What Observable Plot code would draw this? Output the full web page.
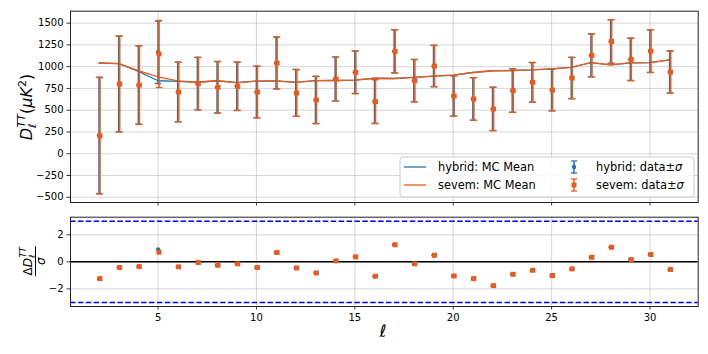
<!DOCTYPE html>
<html><head><meta charset="utf-8">
<script src="https://cdn.jsdelivr.net/npm/d3@7"></script>
<script src="https://cdn.jsdelivr.net/npm/@observablehq/plot@0.6"></script>
<style>
body{margin:0;background:#fff}
#fig{position:relative;width:708px;height:354px;overflow:hidden}
#fig svg{position:absolute;left:0}
</style>
</head><body><div id="fig"></div>
<script>
// multipoles
const ell = [2,3,4,5,6,7,8,9,10,11,12,13,14,15,16,17,18,19,20,21,22,23,24,25,26,27,28,29,30,31];
// hybrid: data and sigma
const hybridData  = [211,802,790,1165,710,806,764,775,710,1042,699,618,859,935,600,1176,840,1008,664,630,515,726,821,733,870,1130,1290,1084,1179,939];
const hybridSigma = [668,550,449,358,343,301,296,277,296,298,270,271,252,244,252,248,243,237,231,244,249,250,227,240,237,246,250,243,245,242];
// sevem: data and sigma
const sevemData   = [206,800,788,1146,708,805,763,774,708,1041,697,617,858,934,599,1175,839,1007,663,629,514,725,820,732,869,1129,1289,1083,1178,938];
const sevemSigma  = [668,550,452,385,341,301,296,277,296,298,267,271,252,244,252,248,243,237,231,244,249,250,227,240,237,246,250,243,245,242];
// MC means
const hybridMC = [1042,1035,945,838,832,821,838,817,834,836,819,840,841,845,867,864,877,892,904,933,953,956,962,975,993,1046,1020,1043,1047,1077];
const sevemMC  = [1042,1035,955,882,836,821,838,817,834,836,819,840,841,845,867,864,877,892,904,933,953,956,962,975,993,1046,1020,1043,1047,1077];
// normalised residuals
const hybridResid = [-1.24,-0.42,-0.35,0.91,-0.37,-0.05,-0.25,-0.15,-0.42,0.69,-0.45,-0.82,0.07,0.37,-1.06,1.26,-0.15,0.49,-1.04,-1.24,-1.76,-0.92,-0.62,-1.01,-0.52,0.34,1.08,0.17,0.55,-0.57];
const sevemResid  = [-1.24,-0.42,-0.35,0.71,-0.37,-0.05,-0.25,-0.15,-0.42,0.69,-0.45,-0.82,0.07,0.37,-1.06,1.26,-0.15,0.49,-1.04,-1.24,-1.76,-0.92,-0.62,-1.01,-0.52,0.34,1.08,0.17,0.54,-0.57];
// ticks
const xTicks = [5,10,15,20,25,30];
const yTicksTop = [-500,-250,0,250,500,750,1000,1250,1500];
const yTicksBot = [-2,0,2];
const sigmaLines = [3,-3];

const C_H = "#1f77b4", C_S = "#f05a16";
const minus = d => d < 0 ? "\u2212" + Math.abs(d) : String(d);
const H = ell.map((l,i)=>({l, v:hybridData[i], s:hybridSigma[i], mc:hybridMC[i], r:hybridResid[i]}));
const S = ell.map((l,i)=>({l, v:sevemData[i], s:sevemSigma[i], mc:sevemMC[i], r:sevemResid[i]}));
const cap = {draw(ctx){ctx.moveTo(-3.2,0);ctx.lineTo(3.2,0);}};
const font = {fontFamily:"DejaVu Sans", fontSize:"10px", color:"black", background:"white"};
const grid = {stroke:"#b0b0b0", strokeOpacity:0.65, strokeWidth:0.8};

function errMarks(D, col, dx){
  return [
    Plot.ruleX(D, {x:"l", y1:d=>d.v-d.s, y2:d=>d.v+d.s, stroke:col, strokeWidth:1.6, dx}),
    Plot.dot(D, {x:"l", y:d=>d.v-d.s, symbol:cap, r:3, stroke:col, fill:"none", strokeWidth:1.4, dx}),
    Plot.dot(D, {x:"l", y:d=>d.v+d.s, symbol:cap, r:3, stroke:col, fill:"none", strokeWidth:1.4, dx})
  ];
}

const topPlot = Plot.plot({
  width:708, height:208,
  marginLeft:70, marginRight:10.3, marginTop:10.7, marginBottom:6,
  style:font,
  x:{domain:[0.55,32.45]},
  y:{domain:[-560,1637]},
  marks:[
    Plot.gridY(yTicksTop, grid),
    Plot.gridX(xTicks, grid),
    Plot.line(H, {x:"l", y:"mc", stroke:C_H, strokeWidth:1.3}),
    Plot.line(S, {x:"l", y:"mc", stroke:C_S, strokeWidth:1.3}),
    ...errMarks(H, C_H, 0),
    Plot.dot(H, {x:"l", y:"v", r:2.2, fill:C_H, stroke:null}),
    ...errMarks(S, C_S, 1),
    Plot.dot(S, {x:"l", y:"v", symbol:"square", r:2.8, fill:C_S, stroke:null, dx:1}),
    Plot.axisY(yTicksTop, {tickSize:3.5, tickPadding:3.5, tickFormat:minus, label:null, strokeWidth:0.8}),
    Plot.axisX(xTicks, {tickSize:3.5, tickFormat:()=>"", label:null, strokeWidth:0.8}),
    Plot.frame({stroke:"#222", strokeWidth:1})
  ]
});

const botPlot = Plot.plot({
  width:708, height:146,
  marginLeft:70, marginRight:10.3, marginTop:8.7, marginBottom:48,
  style:font,
  x:{domain:[0.55,32.45]},
  y:{domain:[-3.3,3.3]},
  marks:[
    Plot.gridY(yTicksBot, grid),
    Plot.gridX(xTicks, grid),
    Plot.ruleY([0], {stroke:"black", strokeWidth:1.5}),
    Plot.ruleY(sigmaLines, {stroke:"#0000ff", strokeWidth:1.6, strokeDasharray:"5.5,2.4"}),
    Plot.dot(H, {x:"l", y:"r", r:2.2, fill:C_H, stroke:null}),
    Plot.dot(S, {x:"l", y:"r", symbol:"square", r:2.8, fill:C_S, stroke:null, dx:1}),
    Plot.axisY(yTicksBot, {tickSize:3.5, tickPadding:3.5, tickFormat:minus, label:null, strokeWidth:0.8}),
    Plot.axisX(xTicks, {tickSize:3.5, tickPadding:3.5, tickFormat:d=>String(d), label:null, strokeWidth:0.8}),
    Plot.frame({stroke:"#222", strokeWidth:1})
  ]
});

const fig = document.getElementById("fig");
topPlot.style.top = "0px"; botPlot.style.top = "208px";
fig.appendChild(topPlot); fig.appendChild(botPlot);

// top y label
const st = d3.select(topPlot);
const yl = st.append("text").attr("transform","translate(32,107) rotate(-90)")
  .attr("text-anchor","middle").attr("font-family","DejaVu Sans").attr("font-size",16).attr("fill","black");
yl.append("tspan").attr("font-style","italic").text("D");
yl.append("tspan").attr("font-style","italic").attr("font-size",11).attr("dy",4).text("ℓ");
yl.append("tspan").attr("font-style","italic").attr("font-size",11).attr("dx",-4).attr("dy",-11).text("TT");
yl.append("tspan").attr("dy",7).text("(");
yl.append("tspan").attr("font-style","italic").text("μK");
yl.append("tspan").attr("font-size",11).attr("dy",-6).text("2");
yl.append("tspan").attr("dy",6).text(")");

// legend
const lg = st.append("g").attr("font-family","DejaVu Sans").attr("font-size",11.4).attr("fill","black").attr("text-anchor","start");
lg.append("rect").attr("x",400).attr("y",157).attr("width",294).attr("height",40).attr("rx",3)
  .attr("fill","white").attr("fill-opacity",0.85).attr("stroke","#cccccc");
const legLines = [{t:"hybrid: MC Mean", c:C_H, y:167}, {t:"sevem: MC Mean", c:C_S, y:185}];
legLines.forEach(e=>{
  lg.append("line").attr("x1",404).attr("x2",426).attr("y1",e.y).attr("y2",e.y).attr("stroke",e.c).attr("stroke-width",1.3);
  lg.append("text").attr("x",438).attr("y",e.y+4).attr("text-anchor","start").text(e.t);
});
const legErr = [{t:"hybrid: data±", c:C_H, y:167, sq:false}, {t:"sevem: data±", c:C_S, y:185, sq:true}];
legErr.forEach(e=>{
  const x=574;
  lg.append("line").attr("x1",x).attr("x2",x).attr("y1",e.y-6).attr("y2",e.y+6).attr("stroke",e.c).attr("stroke-width",1.5);
  lg.append("line").attr("x1",x-3).attr("x2",x+3).attr("y1",e.y-6).attr("y2",e.y-6).attr("stroke",e.c).attr("stroke-width",1.3);
  lg.append("line").attr("x1",x-3).attr("x2",x+3).attr("y1",e.y+6).attr("y2",e.y+6).attr("stroke",e.c).attr("stroke-width",1.3);
  if(e.sq) lg.append("rect").attr("x",x-2.5).attr("y",e.y-2.5).attr("width",5).attr("height",5).attr("fill",e.c);
  else lg.append("circle").attr("cx",x).attr("cy",e.y).attr("r",2.2).attr("fill",e.c);
  const t = lg.append("text").attr("x",596).attr("y",e.y+4).attr("text-anchor","start").text(e.t);
  t.append("tspan").attr("font-style","italic").text("σ");
});

// bottom labels
const sb = d3.select(botPlot);
const fr = sb.append("g").attr("transform","translate(35.5,53.3) rotate(-90)")
  .attr("font-family","DejaVu Sans").attr("fill","black");
const num = fr.append("text").attr("text-anchor","middle").attr("y",-4).attr("font-size",12);
num.append("tspan").text("Δ");
num.append("tspan").attr("font-style","italic").text("D");
num.append("tspan").attr("font-style","italic").attr("font-size",8.5).attr("dy",3).text("ℓ");
num.append("tspan").attr("font-style","italic").attr("font-size",8.5).attr("dx",-3).attr("dy",-9).text("TT");
fr.append("line").attr("x1",-15).attr("x2",15).attr("y1",0).attr("y2",0).attr("stroke","black").attr("stroke-width",1);
fr.append("text").attr("text-anchor","middle").attr("y",9).attr("font-size",12).attr("font-style","italic").text("σ");
sb.append("text").attr("x",383).attr("y",129).attr("text-anchor","middle").attr("font-family","DejaVu Sans")
  .attr("font-style","italic").attr("font-size",17).attr("fill","black").text("ℓ");
</script>
</body></html>
